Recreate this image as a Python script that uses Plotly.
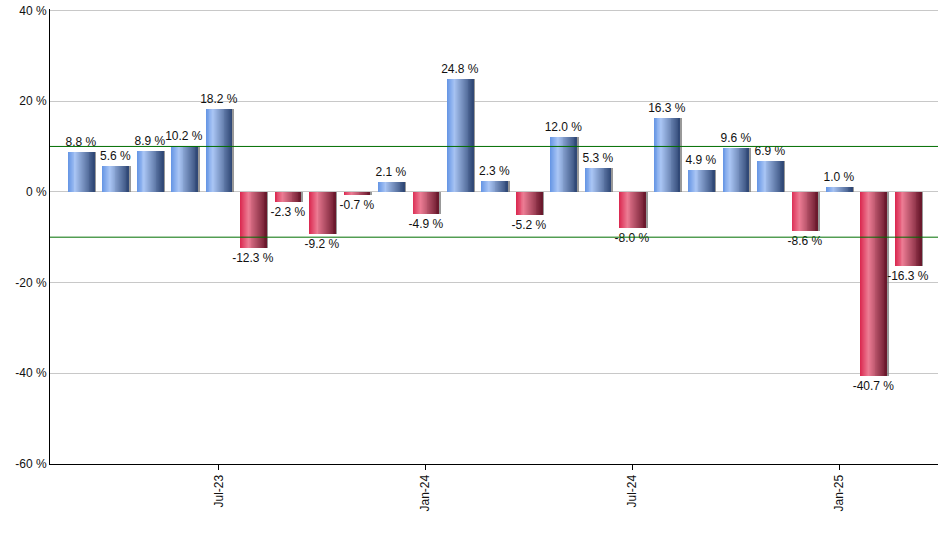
import plotly.graph_objects as go

months = ["Mar-23", "Apr-23", "May-23", "Jun-23", "Jul-23", "Aug-23", "Sep-23",
          "Oct-23", "Nov-23", "Dec-23", "Jan-24", "Feb-24", "Mar-24", "Apr-24",
          "May-24", "Jun-24", "Jul-24", "Aug-24", "Sep-24", "Oct-24", "Nov-24",
          "Dec-24", "Jan-25", "Feb-25", "Mar-25"]
returns = [8.8, 5.6, 8.9, 10.2, 18.2, -12.3, -2.3, -9.2, -0.7, 2.1, -4.9, 24.8,
           2.3, -5.2, 12.0, 5.3, -8.0, 16.3, 4.9, 9.6, 6.9, -8.6, 1.0, -40.7, -16.3]
tick_months = ["Jul-23", "Jan-24", "Jul-24", "Jan-25"]
y_ticks = [-60, -40, -20, 0, 20, 40]
upper_line = 10
lower_line = -10

x = list(range(len(months)))
BAR_W = 0.76
N_SLICES = 28

# horizontal gradient stops (position, rgb)
blue_stops = [(0.0, (100, 148, 228)), (0.28, (170, 198, 245)), (1.0, (46, 70, 116))]
red_stops = [(0.0, (218, 38, 78)), (0.3, (236, 124, 148)), (1.0, (104, 22, 42))]


def grad(stops, t):
    for (p0, c0), (p1, c1) in zip(stops, stops[1:]):
        if p0 <= t <= p1:
            f = (t - p0) / (p1 - p0)
            r, g, b = (round(a + (b_ - a) * f) for a, b_ in zip(c0, c1))
            return f"rgb({r},{g},{b})"
    r, g, b = stops[-1][1]
    return f"rgb({r},{g},{b})"


fig = go.Figure()

# drop shadow
fig.add_trace(go.Bar(
    x=x, y=returns, width=BAR_W, offset=-BAR_W / 2 + 0.06,
    marker=dict(color="rgba(110,110,110,0.7)", line=dict(width=0)),
    hoverinfo="skip", showlegend=False,
))

step = BAR_W / N_SLICES
for k in range(N_SLICES):
    t = (k + 0.5) / N_SLICES
    colors = [grad(blue_stops if v >= 0 else red_stops, t) for v in returns]
    fig.add_trace(go.Bar(
        x=x, y=returns, width=BAR_W - k * step, offset=-BAR_W / 2 + k * step,
        marker=dict(color=colors, line=dict(width=0)),
        hoverinfo="skip", showlegend=False,
    ))

# value labels
fig.add_trace(go.Bar(
    x=x, y=returns, width=BAR_W,
    marker=dict(color="rgba(0,0,0,0)", line=dict(width=0)),
    text=[f"{v:.1f} %" for v in returns], textposition="outside",
    textfont=dict(size=12, color="#111111"), constraintext="none",
    cliponaxis=False, hovertemplate="%{text}<extra></extra>", showlegend=False,
))

for yv in (upper_line, lower_line):
    fig.add_hline(y=yv, line=dict(color="#006e00", width=1))

fig.update_layout(
    width=940, height=550,
    margin=dict(l=50, r=2, t=9, b=86),
    barmode="overlay", bargap=0,
    plot_bgcolor="white", paper_bgcolor="white",
    font=dict(family="Liberation Sans, Arial, sans-serif", size=12, color="#111111"),
    showlegend=False,
)
fig.update_xaxes(
    range=[-0.9, len(months) - 1 + 0.87], automargin=False,
    tickvals=[months.index(m) for m in tick_months], ticktext=tick_months,
    tickangle=-90, ticks="outside", ticklen=5, tickcolor="black",
    showgrid=False, zeroline=False,
    showline=True, linecolor="black", linewidth=1,
)
fig.update_yaxes(
    range=[-60, 40.3], tickvals=y_ticks, ticktext=[f"{v} %" for v in y_ticks],
    automargin=False, ticklabeloverflow="allow",
    showgrid=True, gridcolor="#c8c8c8", gridwidth=1,
    zeroline=True, zerolinecolor="#c8c8c8", zerolinewidth=1,
    showline=True, linecolor="black", linewidth=1, ticks="",
)

# drop the browser's default 8px body margin so the figure sits at the page corner
fig.write_html("out.html", config={"displayModeBar": False},
               post_script="document.body.style.margin = '0';")
